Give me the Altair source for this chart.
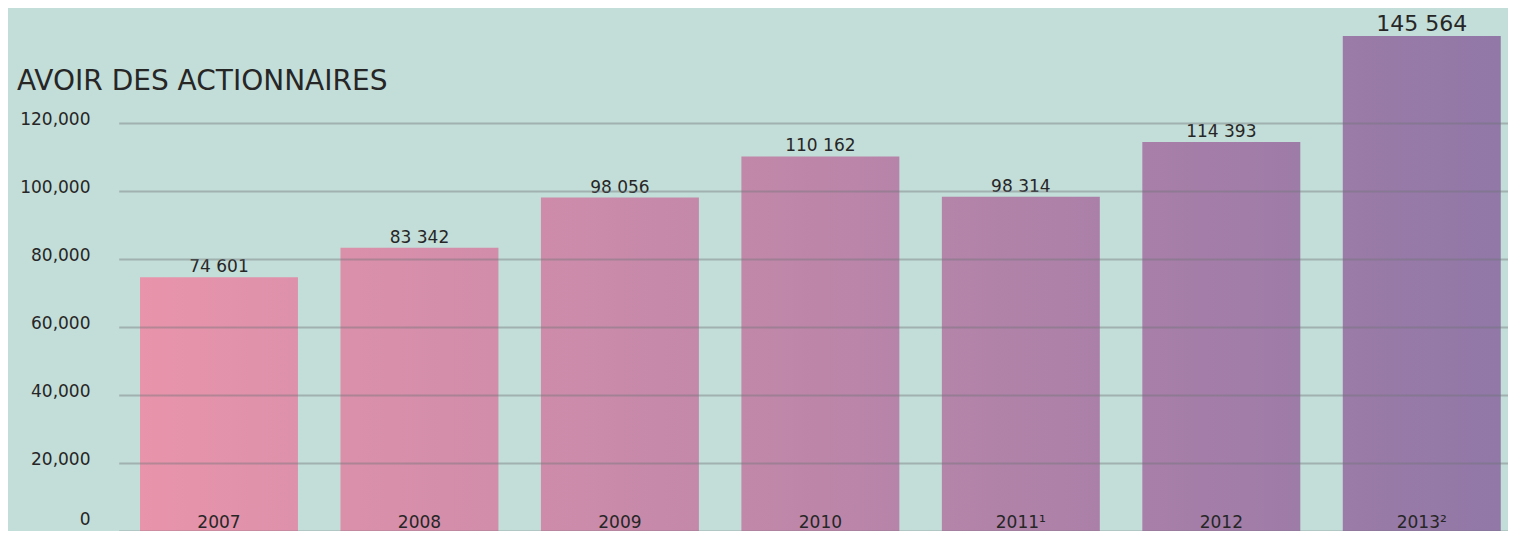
import altair as alt
import pandas as pd

years = ["2007", "2008", "2009", "2010", "2011", "2012", "2013"]
year_labels = ["2007", "2008", "2009", "2010", "2011¹", "2012", "2013²"]
values = [74601, 83342, 98056, 110162, 98314, 114393, 145564]
y_ticks = [0, 20000, 40000, 60000, 80000, 100000, 120000]
title_text = "AVOIR DES ACTIONNAIRES"

# colour ramp across the bars (style)
c_start = (0xE8, 0x94, 0xAB)
c_end = (0x91, 0x78, 0xA7)


def mix(t):
    return "#%02x%02x%02x" % tuple(round(a + (b - a) * t) for a, b in zip(c_start, c_end))


n = len(years)
lefts, rights = [], []
for i in range(n):
    t0 = i / n
    t1 = (i + 0.79) / n
    lefts.append(mix(t0 / (1 - 0.21 / n)))
    rights.append(mix(min(1, t1 / (1 - 0.21 / n))))

df = pd.DataFrame({
    "year": years,
    "label": year_labels,
    "value": values,
    "text": [f"{v:,}".replace(",", " ") for v in values],
})

FONT = "DejaVu Sans"
TXT = "#262626"

x_enc = alt.X("year:N", scale=alt.Scale(domain=years, range=[-3.25, 1400],
                                        paddingInner=0.212, paddingOuter=0.106), axis=None)
y_scale = alt.Scale(domain=[0, 153824], nice=False, zero=True)
y_axis = alt.Axis(values=y_ticks, format=",d", title=None, domain=False, ticks=False,
                  labelPadding=32, labelFontSize=17, labelColor=TXT, labelFont=FONT,
                  grid=True, gridColor="#6f7476", gridOpacity=0.42, gridWidth=2,
                  zindex=1,
                  labelOffset={"condition": {"test": "datum.value == 0", "value": -12}, "value": -4})
y_enc = alt.Y("value:Q", scale=y_scale, axis=y_axis)

base = alt.Chart(df)

layers = []
for i, yv in enumerate(years):
    grad = alt.Gradient(gradient="linear",
                        stops=[alt.GradientStop(color=lefts[i], offset=0),
                               alt.GradientStop(color=rights[i], offset=1)],
                        x1=0, x2=1, y1=0, y2=0)
    layers.append(
        base.transform_filter(alt.datum.year == yv)
        .mark_bar(color=grad)
        .encode(x=x_enc, y=y_enc)
    )

value_text = base.mark_text(baseline="alphabetic", dy=-5, font=FONT, color=TXT).encode(
    x=x_enc, y=y_enc, text="text:N",
    size=alt.condition(alt.datum.year == "2013", alt.value(22), alt.value(17)),
)

year_text = base.mark_text(baseline="alphabetic", dy=-3, font=FONT, fontSize=17, color=TXT).encode(
    x=x_enc, y=alt.Y(datum=0, type="quantitative", scale=y_scale, axis=y_axis), text="label:N"
)

chart = alt.layer(*layers, value_text, year_text).properties(
    width=1386,
    height=523,
    padding={"left": 114, "top": 0, "right": 0, "bottom": 0},
    autosize=alt.AutoSizeParams(type="none"),
    title=alt.TitleParams(title_text, anchor="start", frame="group", orient="top", offset=0,
                          baseline="alphabetic", dx=-105, dy=110, fontSize=28, font=FONT,
                          fontWeight="normal", color=TXT),
).configure(background="#c3ddd8").configure_view(stroke=None)

chart.save("out.html", embed_options={"renderer": "svg", "actions": False})
